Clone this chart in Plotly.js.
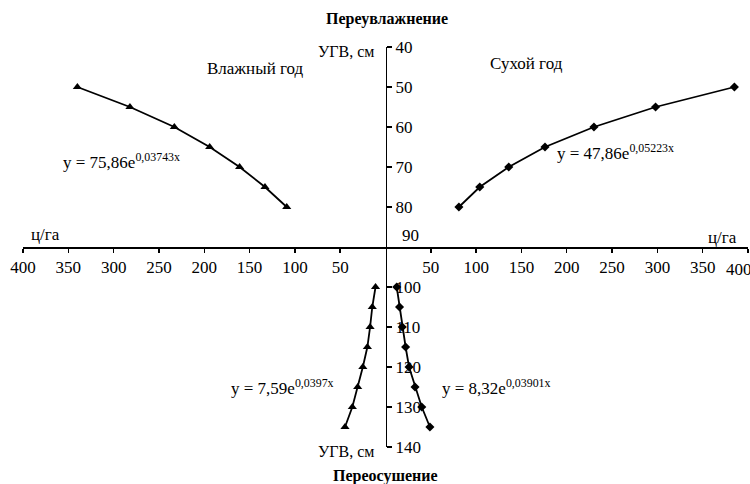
<!DOCTYPE html>
<html>
<head>
<meta charset="utf-8">
<script src="https://cdn.plot.ly/plotly-3.0.1.min.js"></script>
<style>html,body{margin:0;padding:0;background:#fff;}#chart{width:750px;height:484px;}</style>
</head>
<body>
<div id="chart"></div>
<script>
// УГВ (groundwater level, cm)
var ugvWet = [50, 55, 60, 65, 70, 75, 80];
var yieldWet = [340, 282, 233, 194, 161, 133, 109];          // Влажный год, ц/га (left side)
var ugvDry = [50, 55, 60, 65, 70, 75, 80];
var yieldDry = [385, 298, 230, 176, 136, 104, 81];           // Сухой год, ц/га (right side)
var ugvLow = [100, 105, 110, 115, 120, 125, 130, 135];
var yieldLowWet = [11, 14.6, 17, 20, 25, 30.7, 36.6, 44.7];  // left lower
var yieldLowDry = [12.4, 15.5, 18.5, 22.2, 26, 32.6, 40, 49]; // right lower

var xTickVals = [-400, -350, -300, -250, -200, -150, -100, -50, 50, 100, 150, 200, 250, 300, 350, 400];
var xTickText = ['400','350','300','250','200','150','100','50','50','100','150','200','250','300','350',''];
var yTickVals = [40, 50, 60, 70, 80, 100, 110, 120, 130, 140];

function neg(a){ return a.map(function(v){ return -v; }); }

var M = {l:23, r:2, t:47, b:37};
var W = 750, H = 484;
var PW = W - M.l - M.r, PH = H - M.t - M.b;
function px(x){ return (x - M.l) / PW; }
function py(y){ return 1 - (y - M.t) / PH; }

var serif = 'Liberation Serif, Times New Roman, serif';
var lineStyle = {color:'#000', width:1.8};

var traces = [
  {x: neg(yieldWet), y: ugvWet, mode:'lines+markers', line:lineStyle,
   marker:{symbol:'triangle-up', size:8, color:'#000'}},
  {x: yieldDry, y: ugvDry, mode:'lines+markers', line:lineStyle,
   marker:{symbol:'diamond', size:7, color:'#000'}},
  {x: neg(yieldLowWet), y: ugvLow, mode:'lines+markers', line:lineStyle,
   marker:{symbol:'triangle-up', size:8, color:'#000'}},
  {x: yieldLowDry, y: ugvLow, mode:'lines+markers', line:lineStyle,
   marker:{symbol:'diamond', size:7, color:'#000'}}
];

function ann(text, x, y, xanchor, size, extra){
  var a = {text:text, x:px(x), y:py(y), xref:'paper', yref:'paper', showarrow:false,
    xanchor:xanchor, yanchor:'middle', font:{family:serif, size:size, color:'#000'}};
  if (extra) for (var k in extra) a[k] = extra[k];
  return a;
}

var annotations = [
  ann('<b>Переувлажнение</b>', 387, 19, 'center', 16),
  ann('УГВ, см', 376, 52, 'right', 16),
  ann('Влажный год', 255, 68, 'center', 17),
  ann('Сухой год', 526, 63, 'center', 17),
  ann('y = 75,86e<sup>0,03743x</sup>', 61, 161, 'left', 17),
  ann('y = 47,86e<sup>0,05223x</sup>', 555, 152, 'left', 17),
  ann('ц/га', 45, 234, 'center', 17),
  ann('ц/га', 722, 237, 'center', 17),
  ann('90', 410, 236, 'center', 17),
  ann('400', 739, 269, 'center', 17),
  ann('y = 7,59e<sup>0,0397x</sup>', 229, 387, 'left', 17),
  ann('y = 8,32e<sup>0,03901x</sup>', 440, 387, 'left', 17),
  ann('УГВ, см', 376, 451, 'right', 16),
  ann('<b>Переосушение</b>', 385, 476, 'center', 16)
];

var layout = {
  width: W, height: H,
  margin: M,
  showlegend: false,
  paper_bgcolor:'#fff', plot_bgcolor:'#fff',
  xaxis: {
    range: [-400, 400], anchor:'free', position: 0.5,
    showline:true, linecolor:'#000', linewidth:1.6,
    showgrid:false, zeroline:false,
    tickmode:'array', tickvals:xTickVals, ticktext:xTickText,
    ticks:'outside', ticklen:4, tickwidth:1.4, tickcolor:'#000',
    tickfont:{family:serif, size:17, color:'#000'}
  },
  yaxis: {
    range: [140, 40], anchor:'free', position: 0.5, side:'right',
    showline:true, linecolor:'#000', linewidth:1.6,
    showgrid:false, zeroline:false,
    tickmode:'array', tickvals:yTickVals,
    ticks:'outside', ticklen:5, tickwidth:1.4, tickcolor:'#000',
    tickfont:{family:serif, size:17, color:'#000'}
  },
  annotations: annotations
};

Plotly.newPlot('chart', traces, layout, {staticPlot:true, displayModeBar:false});
</script>
</body>
</html>
